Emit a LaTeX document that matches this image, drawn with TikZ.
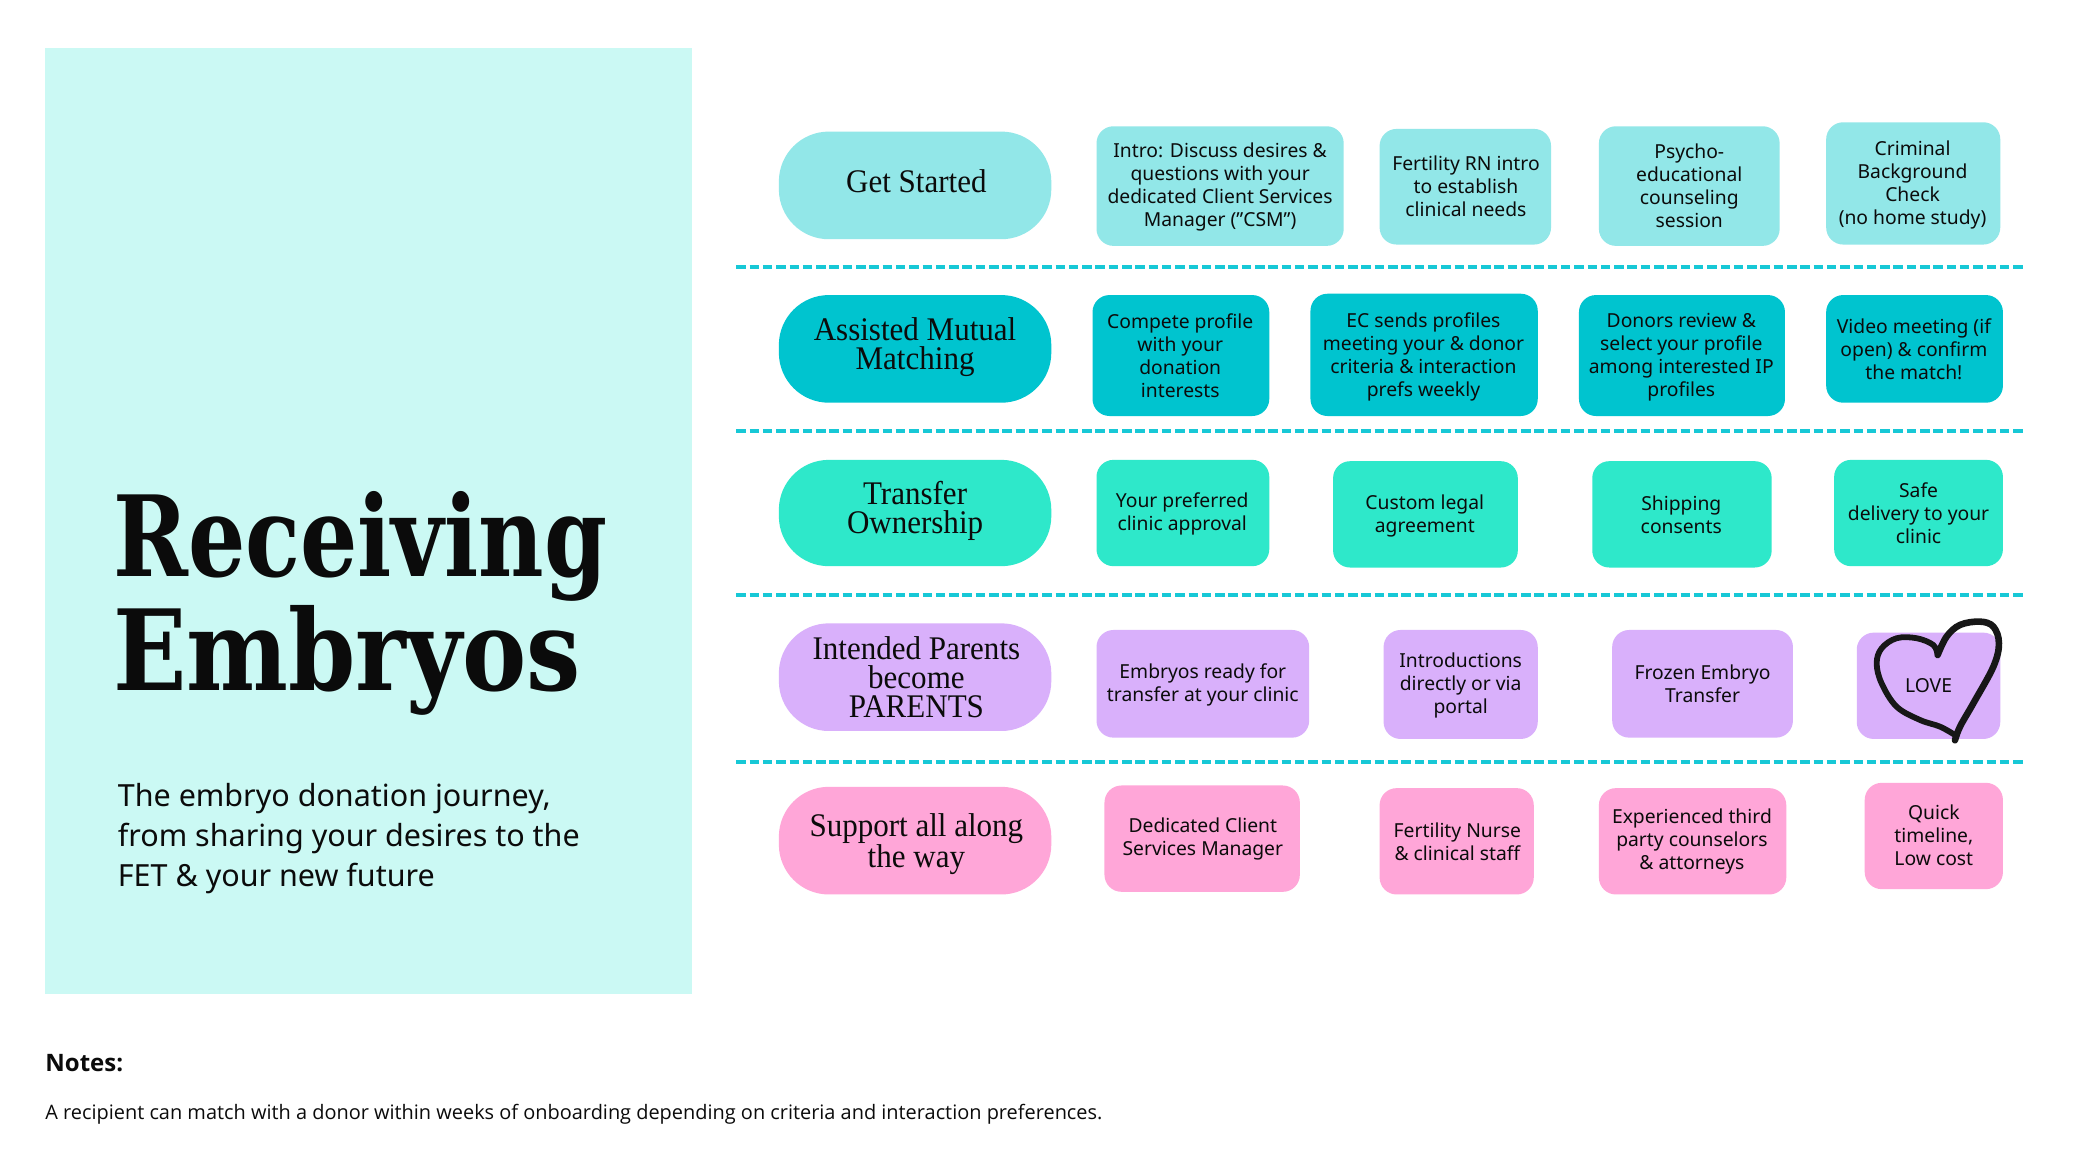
\documentclass[tikz,border=0pt]{standalone}
\usepackage{fontspec}
\setmainfont{Noto Sans}
\newfontfamily\titlefont[FakeStretch=0.805]{DejaVu Serif}
\newfontfamily\titlefontb[FakeStretch=0.86]{DejaVu Serif}
\newfontfamily\pillfont[FakeStretch=0.94]{Liberation Serif}
\newfontfamily\notefont{Open Sans}
\definecolor{panelc}{HTML}{CBF9F4}
\definecolor{rowa}{HTML}{92E7E8}
\definecolor{rowb}{HTML}{00C4CF}
\definecolor{rowc}{HTML}{2EE8CA}
\definecolor{rowd}{HTML}{D9B0FB}
\definecolor{rowe}{HTML}{FFA6D8}
\definecolor{dashc}{HTML}{17C8D6}
\definecolor{ink}{HTML}{0B0B0B}
\tikzset{
  cardbox/.style={rounded corners=17pt,inner sep=0pt,align=center,text=ink,
    font=\fontsize{19.3}{23}\selectfont},
  pillbox/.style={rounded corners=50pt,inner sep=0pt,align=center,text=ink,
    font=\pillfont\fontsize{33}{29}\selectfont},
  sepline/.style={draw=dashc,line width=4pt,dash pattern=on 9.5pt off 3.8pt},
  plain/.style={inner sep=0pt,anchor=west,align=left,text=ink},
  heartline/.style={draw=ink!95!white,line width=6.6pt,line cap=round,line join=round}
}
\newcommand{\card}[7]{\node[#2,fill=#7,minimum width={(#5-#3)*1.32908pt},minimum height={(#6-#4)*1.32908pt}]
  (#1) at ({(#3+#5)/2},{(#4+#6)/2}) {};}
\newcommand{\lbl}[5]{\node[#2,anchor=center] (#1) at (#3,#4) {#5};}
\begin{document}
\begin{tikzpicture}[x=1.32908pt,y=-1.32908pt]
\useasboundingbox (0,0) rectangle (1568,882);
\fill[white] (0,0) rectangle (1568,882);
\node[fill=panelc,minimum width={487*1.32908pt},minimum height={712*1.32908pt},inner sep=0pt] (panel) at (277.5,392) {};
\node[plain,font=\titlefont\bfseries\fontsize{112}{114}\selectfont] (title) at (85,454) {Receiving\\{\titlefontb\bfseries Embryos}};
\node[plain,font=\fontsize{30.5}{40}\selectfont] (sub) at (88.5,631) {The embryo donation journey,\\from sharing your desires to the\\FET \& your new future};
\node[plain,font=\notefont\bfseries\fontsize{24}{28}\selectfont] (notes) at (34,799.5) {Notes:};
\node[plain,font=\notefont\fontsize{19.93}{24}\selectfont] (notetext) at (34,838) {A recipient can match with a donor within weeks of onboarding depending on criteria and interaction preferences.};
% separators
\coordinate (s1a) at (554,201); \coordinate (s1b) at (1523,201);
\coordinate (s2a) at (554,324); \coordinate (s2b) at (1523,324);
\coordinate (s3a) at (554,447.5); \coordinate (s3b) at (1523,447.5);
\coordinate (s4a) at (554,573); \coordinate (s4b) at (1523,573);
\draw[sepline] (s1a) -- (s1b);
\draw[sepline] (s2a) -- (s2b);
\draw[sepline] (s3a) -- (s3b);
\draw[sepline] (s4a) -- (s4b);
% pills
\card{pa}{pillbox}{586}{99}{791}{180}{rowa}
\card{pb}{pillbox}{586}{222}{791}{303}{rowb}
\card{pc}{pillbox}{586}{346}{791}{426}{rowc}
\card{pd}{pillbox}{586}{469}{791}{550}{rowd}
\card{pe}{pillbox}{586}{592}{791}{673}{rowe}
\lbl{pat}{pillbox}{689.5}{136.5}{Get Started}
\lbl{pbt}{pillbox}{688.5}{261}{Assisted Mutual\\Matching}
\lbl{pct}{pillbox}{688.5}{384.5}{Transfer\\Ownership}
\lbl{pdt}{pillbox}{689.5}{509.5}{Intended Parents\\become\\PARENTS}
\lbl{pet}{pillbox}{689.5}{635}{Support all along\\the way}
% row 1
\card{a1}{cardbox}{825}{95}{1011}{185}{rowa}
\card{a2}{cardbox}{1038}{97}{1167}{184}{rowa}
\card{a3}{cardbox}{1203}{95}{1339}{185}{rowa}
\card{a4}{cardbox}{1374}{92}{1505}{184}{rowa}
\lbl{a1t}{cardbox}{918}{141}{Intro: Discuss desires \&\\questions with your\\dedicated Client Services\\Manager (”CSM”)}
\lbl{a2t}{cardbox}{1103}{140}{Fertility RN intro\\to establish\\clinical needs}
\lbl{a3t}{cardbox}{1271}{140}{Psycho-\\educational\\counseling\\session}
\lbl{a4t}{cardbox}{1439}{139}{Criminal\\Background\\Check\\(no home study)}
% row 2
\card{b1}{cardbox}{822}{222}{955}{313}{rowb}
\card{b2}{cardbox}{986}{221}{1157}{313}{rowb}
\card{b3}{cardbox}{1188}{222}{1343}{313}{rowb}
\card{b4}{cardbox}{1374}{222}{1507}{303}{rowb}
\lbl{b1t}{cardbox}{888}{268}{Compete profile\\with your\\donation\\interests}
\lbl{b2t}{cardbox}{1071}{268.5}{EC sends profiles\\meeting your \& donor\\criteria \& interaction\\prefs weekly}
\lbl{b3t}{cardbox}{1265}{268.5}{Donors review \&\\select your profile\\among interested IP\\profiles}
\lbl{b4t}{cardbox}{1440}{262.5}{Video meeting (if\\open) \& confirm\\the match!}
% row 3
\card{c1}{cardbox}{825}{346}{955}{426}{rowc}
\card{c2}{cardbox}{1003}{347}{1142}{427}{rowc}
\card{c3}{cardbox}{1198}{347}{1333}{427}{rowc}
\card{c4}{cardbox}{1380}{346}{1507}{426}{rowc}
\lbl{c1t}{cardbox}{889.5}{387}{Your preferred\\clinic approval}
\lbl{c2t}{cardbox}{1072}{388}{Custom legal\\agreement}
\lbl{c3t}{cardbox}{1265}{387}{Shipping\\consents}
\lbl{c4t}{cardbox}{1443.5}{386}{Safe\\delivery to your\\clinic}
% row 4
\card{d1}{cardbox}{825}{474}{985}{555}{rowd}
\card{d2}{cardbox}{1041}{474}{1157}{556}{rowd}
\card{d3}{cardbox}{1213}{474}{1349}{555}{rowd}
\card{d4}{cardbox}{1397}{476}{1505}{556}{rowd}
\lbl{d1t}{cardbox}{905}{515}{Embryos ready for\\transfer at your clinic}
\lbl{d2t}{cardbox}{1099}{515.5}{Introductions\\directly or via\\portal}
\lbl{d3t}{cardbox}{1281}{514.5}{Frozen Embryo\\Transfer}
\lbl{d4t}{cardbox}{1451}{516}{LOVE}
% row 5
\card{e1}{cardbox}{831}{591}{978}{671}{rowe}
\card{e2}{cardbox}{1038}{593}{1154}{673}{rowe}
\card{e3}{cardbox}{1203}{593}{1344}{673}{rowe}
\card{e4}{cardbox}{1403}{589}{1507}{669}{rowe}
\lbl{e1t}{cardbox}{905}{631.5}{Dedicated Client\\Services Manager}
\lbl{e2t}{cardbox}{1096.5}{633}{Fertility Nurse\\\& clinical staff}
\lbl{e3t}{cardbox}{1273}{633.5}{Experienced third\\party counselors\\\& attorneys}
\lbl{e4t}{cardbox}{1455}{628.5}{Quick\\timeline,\\Low cost}
% heart
\draw[heartline] plot[smooth,tension=0.6] coordinates {
  (1470.9,557) (1474.7,546.7) (1484.7,529.2) (1499.8,501.6) (1504.0,484.0)
  (1499.8,471.5) (1489.7,467.7) (1474.7,470.2) (1464.6,479.0) (1457.9,492.8)};
\draw[heartline,line width=5.8pt] plot[smooth,tension=0.6] coordinates {
  (1457.9,492.8) (1454.6,485.3) (1442.1,480.2) (1427.0,480.2) (1415.7,487.8)
  (1412,499.1) (1415.7,514.1) (1427,531.7) (1444.6,541.7) (1459.6,546.7) (1470.9,553)};
\end{tikzpicture}
\end{document}
